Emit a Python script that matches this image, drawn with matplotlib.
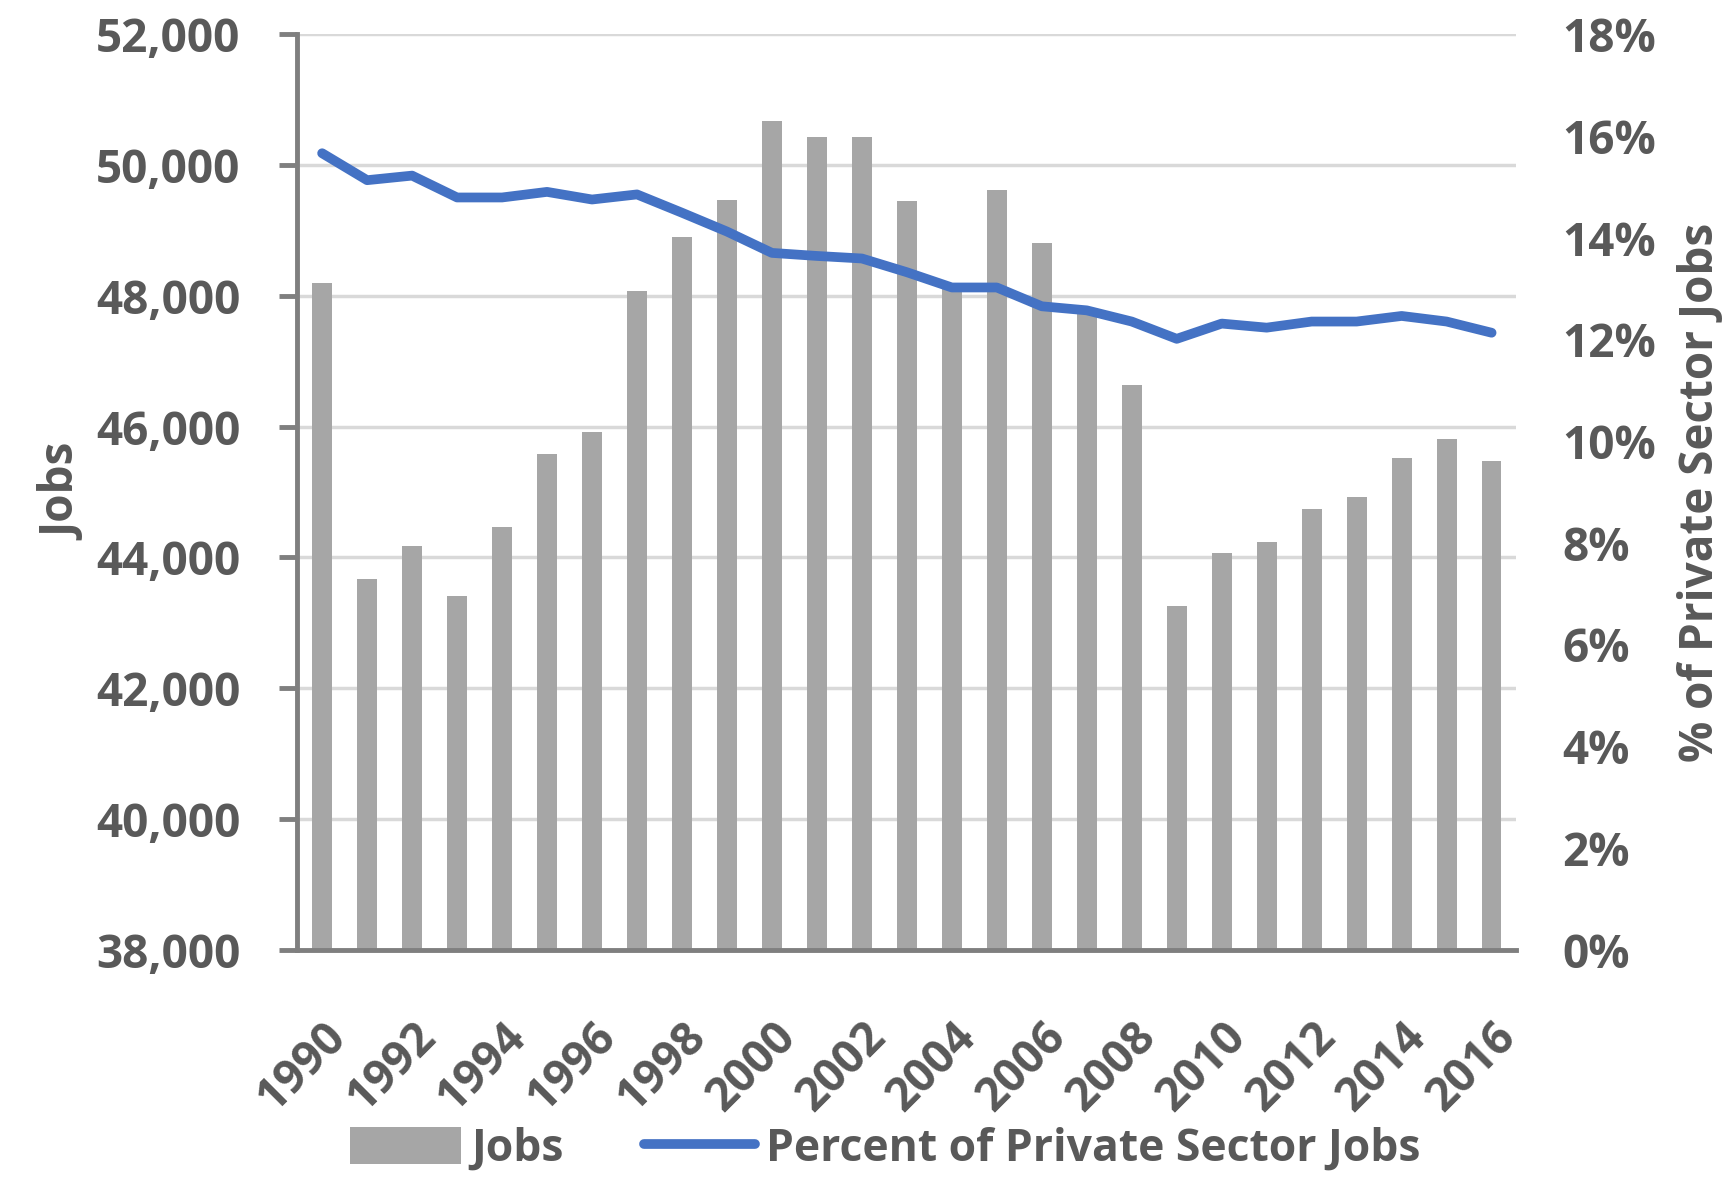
import matplotlib
matplotlib.use("Agg")
import matplotlib.pyplot as plt
from matplotlib.ticker import FuncFormatter

plt.rcParams['font.family'] = ['Open Sans', 'DejaVu Sans']
plt.rcParams['font.weight'] = 'bold'

# data
years = list(range(1990, 2017))
jobs = [48190, 43660, 44170, 43400, 44460, 45580, 45910, 48070, 48900, 49460,
        50680, 50430, 50430, 49450, 48100, 49620, 48810, 47720, 46640, 43260,
        44070, 44240, 44740, 44915, 45515, 45815, 45480]
pct = [15.66, 15.13, 15.22, 14.79, 14.79, 14.90, 14.75, 14.85, 14.49, 14.12,
       13.70, 13.64, 13.59, 13.32, 13.02, 13.02, 12.65, 12.57, 12.35, 12.01,
       12.31, 12.23, 12.35, 12.35, 12.46, 12.35, 12.13]
year_labels = [str(y) if y % 2 == 0 else '' for y in years]

txt = '#595959'
fs = 33

fig = plt.figure(figsize=(17.29, 11.81), dpi=100)
ax = fig.add_axes([0.172, 0.196, 0.705, 0.775])
ax2 = ax.twinx()

bars = ax.bar(years, jobs, width=0.44, color='#A6A6A6', zorder=2, label='Jobs')
ax.set_ylim(38000, 52000)
ax.set_xlim(1989.45, 2016.55)
ax.set_yticks(range(38000, 52001, 2000))
ax.yaxis.set_major_formatter(FuncFormatter(lambda v, p: f'{int(v):,}'))
ax.grid(axis='y', color='#D9D9D9', lw=2.5, zorder=0)
ax.set_axisbelow(True)

ax.set_xticks(years)
ax.set_xticklabels(year_labels, rotation=45, ha='right', rotation_mode='anchor')
ax.tick_params(axis='x', length=0, pad=46, labelsize=fs, labelcolor=txt)
ax.tick_params(axis='y', length=13, width=3.5, color='#7F7F7F', pad=28,
               labelsize=fs, labelcolor=txt)

for s in ['top', 'right']:
    ax.spines[s].set_visible(False)
for s in ['left', 'bottom']:
    ax.spines[s].set_color('#7F7F7F')
    ax.spines[s].set_linewidth(3.5)
for s in ax2.spines.values():
    s.set_visible(False)

line, = ax2.plot(years, pct, color='#4472C4', lw=7, solid_capstyle='round',
                 label='Percent of Private Sector Jobs', zorder=3)
ax2.set_ylim(0, 18)
ax2.set_yticks(range(0, 19, 2))
ax2.yaxis.set_major_formatter(FuncFormatter(lambda v, p: f'{int(v)}%'))
ax2.tick_params(axis='y', length=0, pad=33, labelsize=fs, labelcolor=txt)

ax.set_ylabel('Jobs', fontsize=fs, color=txt, fontweight='bold', labelpad=6)
ax2.set_ylabel('% of Private Sector Jobs', fontsize=fs, color=txt,
               fontweight='bold', labelpad=15)

fig.legend([bars, line], ['Jobs', 'Percent of Private Sector Jobs'],
           loc='lower center', bbox_to_anchor=(0.512, -0.026), ncol=2,
           frameon=False, fontsize=32, labelcolor=txt, handlelength=2.5,
           handleheight=0.9, columnspacing=1.8, handletextpad=0.25)

fig.savefig('out.png', dpi=100)
